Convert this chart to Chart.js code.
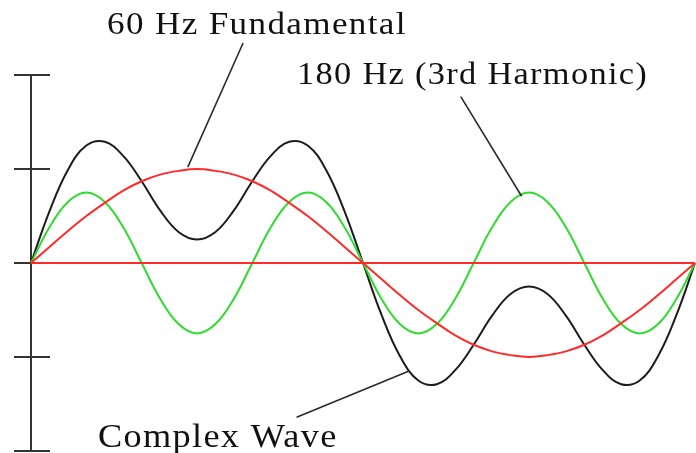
<!DOCTYPE html>
<html>
<head>
<meta charset="utf-8">
<script src="https://cdn.jsdelivr.net/npm/chart.js@4/dist/chart.umd.min.js"></script>
<style>
  html, body { margin: 0; padding: 0; background: #fff; }
  #wave { display: block; }
</style>
</head>
<body>
<canvas id="wave" width="696" height="453"></canvas>
<script>
/* Complex wave = 60 Hz fundamental + 180 Hz 3rd harmonic.
   Values every 10 degrees (one full cycle). */

const degrees = [0, 10, 20, 30, 40, 50, 60, 70, 80, 90, 100, 110, 120, 130, 140, 150, 160, 170, 180,
                 190, 200, 210, 220, 230, 240, 250, 260, 270, 280, 290, 300, 310, 320, 330, 340, 350, 360];

const fundamental = [0, 0.17, 0.34, 0.5, 0.64, 0.77, 0.87, 0.94, 0.98, 1, 0.98, 0.94, 0.87, 0.77, 0.64, 0.5, 0.34, 0.17, 0,
                     -0.17, -0.34, -0.5, -0.64, -0.77, -0.87, -0.94, -0.98, -1, -0.98, -0.94, -0.87, -0.77, -0.64, -0.5, -0.34, -0.17, 0];

const harmonic = [0, 0.38, 0.65, 0.75, 0.65, 0.38, 0, -0.38, -0.65, -0.75, -0.65, -0.38, 0, 0.38, 0.65, 0.75, 0.65, 0.38, 0,
                  -0.38, -0.65, -0.75, -0.65, -0.38, 0, 0.38, 0.65, 0.75, 0.65, 0.38, 0, -0.38, -0.65, -0.75, -0.65, -0.38, 0];

const complexWave = [0, 0.55, 0.99, 1.25, 1.29, 1.14, 0.87, 0.56, 0.33, 0.25, 0.33, 0.56, 0.87, 1.14, 1.29, 1.25, 0.99, 0.55, 0,
                     -0.55, -0.99, -1.25, -1.29, -1.14, -0.87, -0.56, -0.33, -0.25, -0.33, -0.56, -0.87, -1.14, -1.29, -1.25, -0.99, -0.55, 0];

const baseline = [0, 0];
const baselineX = [0, 360];

const yTicks = [-2, -1, 0, 1, 2];

/* leader lines, in data units: [fromX, fromY, toX, toY] */
const leaders = [
  [115, 2.34, 85, 1.02],    // 60 Hz Fundamental
  [233, 1.77, 266, 0.71],   // 180 Hz (3rd Harmonic)
  [144, -1.64, 205, -1.15]  // Complex Wave
];

const labels = ["60 Hz Fundamental", "180 Hz (3rd Harmonic)", "Complex Wave"];

const RED   = "#ff2a2a";
const GREEN = "#2edc2e";
const BLACK = "#1c1c1c";
const AXIS  = "#333333";
const FONT  = "'Liberation Serif', 'DejaVu Serif', serif";

function pts(xs, ys) {
  return xs.map((x, i) => ({ x: x, y: ys[i] }));
}

/* axis with cross ticks, leader lines and labels */
const decor = {
  id: "decor",
  beforeDatasetsDraw(chart) {
    const { ctx, scales } = chart;
    const x0 = scales.x.getPixelForValue(0);
    ctx.save();
    ctx.strokeStyle = AXIS;
    ctx.lineWidth = 2;
    ctx.beginPath();
    ctx.moveTo(x0, scales.y.getPixelForValue(yTicks[yTicks.length - 1]));
    ctx.lineTo(x0, scales.y.getPixelForValue(yTicks[0]));
    yTicks.forEach(v => {
      const y = Math.round(scales.y.getPixelForValue(v));
      ctx.moveTo(x0 - 17, y);
      ctx.lineTo(x0 + 19, y);
    });
    ctx.stroke();
    ctx.restore();
  },
  afterDatasetsDraw(chart) {
    const { ctx, scales } = chart;
    ctx.save();
    ctx.strokeStyle = "#2a2a2a";
    ctx.lineWidth = 1.6;
    leaders.forEach(l => {
      ctx.beginPath();
      ctx.moveTo(scales.x.getPixelForValue(l[0]), scales.y.getPixelForValue(l[1]));
      ctx.lineTo(scales.x.getPixelForValue(l[2]), scales.y.getPixelForValue(l[3]));
      ctx.stroke();
    });

    /* label placement: left x, baseline y, font size, target width */
    const place = [
      [107, 34, 31, 296],
      [297, 84, 32, 348],
      [98, 447, 33, 237]
    ];
    ctx.fillStyle = "#111";
    ctx.textBaseline = "alphabetic";
    ctx.textAlign = "left";
    labels.forEach((t, i) => {
      const p = place[i];
      ctx.font = p[2] + "px " + FONT;
      const w = ctx.measureText(t).width;
      // a little tracking, the rest as horizontal stretch
      const sp = 1.2;
      const sx = (p[3] - sp * (t.length - 1)) / w;
      ctx.save();
      ctx.letterSpacing = sp + "px";
      ctx.translate(p[0], p[1]);
      ctx.scale(sx, 1);
      ctx.fillText(t, 0, 0);
      ctx.restore();
    });
    ctx.restore();
  }
};

new Chart(document.getElementById("wave"), {
  type: "line",
  data: {
    datasets: [
      { data: pts(baselineX, baseline), borderColor: RED, borderWidth: 2, tension: 0 },
      { data: pts(degrees, fundamental), borderColor: RED, borderWidth: 2 },
      { data: pts(degrees, harmonic), borderColor: GREEN, borderWidth: 2 },
      { data: pts(degrees, complexWave), borderColor: BLACK, borderWidth: 2 }
    ]
  },
  options: {
    responsive: false,
    animation: false,
    layout: { padding: { left: 31, right: 1, top: 75, bottom: 2 } },
    elements: {
      point: { radius: 0 },
      line: { tension: 0.4, fill: false }
    },
    datasets: { line: { clip: false } },
    plugins: { legend: { display: false }, tooltip: { enabled: false } },
    scales: {
      x: { type: "linear", min: 0, max: 360, display: false },
      y: { min: -2, max: 2, display: false }
    }
  },
  plugins: [decor]
});
</script>
</body>
</html>
